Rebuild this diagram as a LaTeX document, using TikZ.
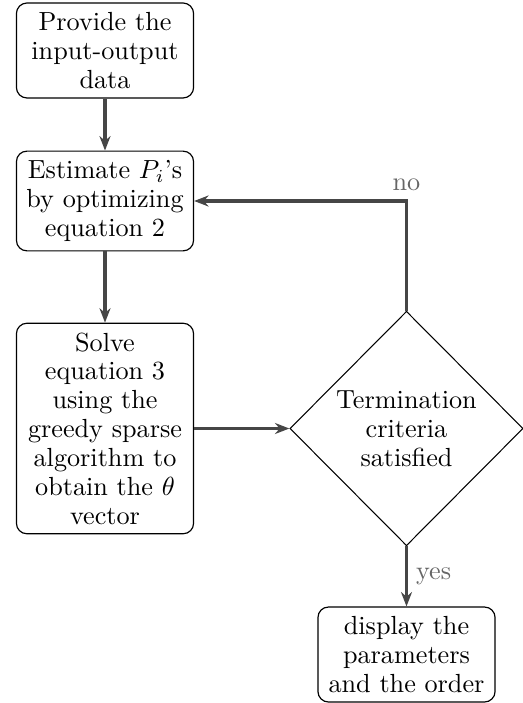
\documentclass[tikz,border=0pt]{standalone}
\usetikzlibrary{shapes.geometric,arrows.meta}
\definecolor{linegray}{HTML}{464646}
\definecolor{labelgray}{HTML}{666666}
\begin{document}
\begin{tikzpicture}[x=0.38168pt,y=-0.38168pt,
  procbox/.style={draw=black, line width=0.45pt, rounded corners=4pt, align=center,
    text width=60.8pt, inner xsep=3.4pt, inner ysep=3.6pt,
    font=\fontsize{10}{11}\selectfont},
  decbox/.style={draw=black, line width=0.4pt, diamond, aspect=1, align=center,
    inner sep=0pt, minimum width=89pt, minimum height=89.5pt,
    font=\fontsize{10}{11}\selectfont},
  flow/.style={draw=linegray, line width=1.3pt,
    -{Stealth[length=5.5pt,width=4.2pt,inset=1.8pt]}},
  lbl/.style={text=labelgray, font=\fontsize{10}{11}\selectfont}]
\useasboundingbox (0,0) rectangle (523,703);
\node[procbox] (b1) at (105,50.5) {Provide the\\input-output\\data};
\node[procbox] (b2) at (105,201) {Estimate $P_i$'s\\by optimizing\\equation 2};
\node[procbox] (b3) at (105,428.5) {Solve\\equation 3\\using the\\greedy sparse\\algorithm to\\obtain the $\theta$\\vector};
\node[decbox] (d) at (406.5,428.5) {Termination\\criteria\\satisfied};
\node[procbox] (b4) at (406.5,654.5) {display the\\parameters\\and the order};
\coordinate (c) at (406.5,201);
\draw[flow] (b1) -- (b2);
\draw[flow] (b2) -- (b3);
\draw[flow] (b3) -- (d);
\draw[flow] (d.north) -- (c) -- (b2.east);
\node[lbl, anchor=south, inner sep=0pt] (no) at ([yshift=3.8pt]c) {no};
\draw[flow] (d.south) -- node[lbl, right, inner sep=3pt] (yes) {yes} (b4.north);
\end{tikzpicture}
\end{document}
